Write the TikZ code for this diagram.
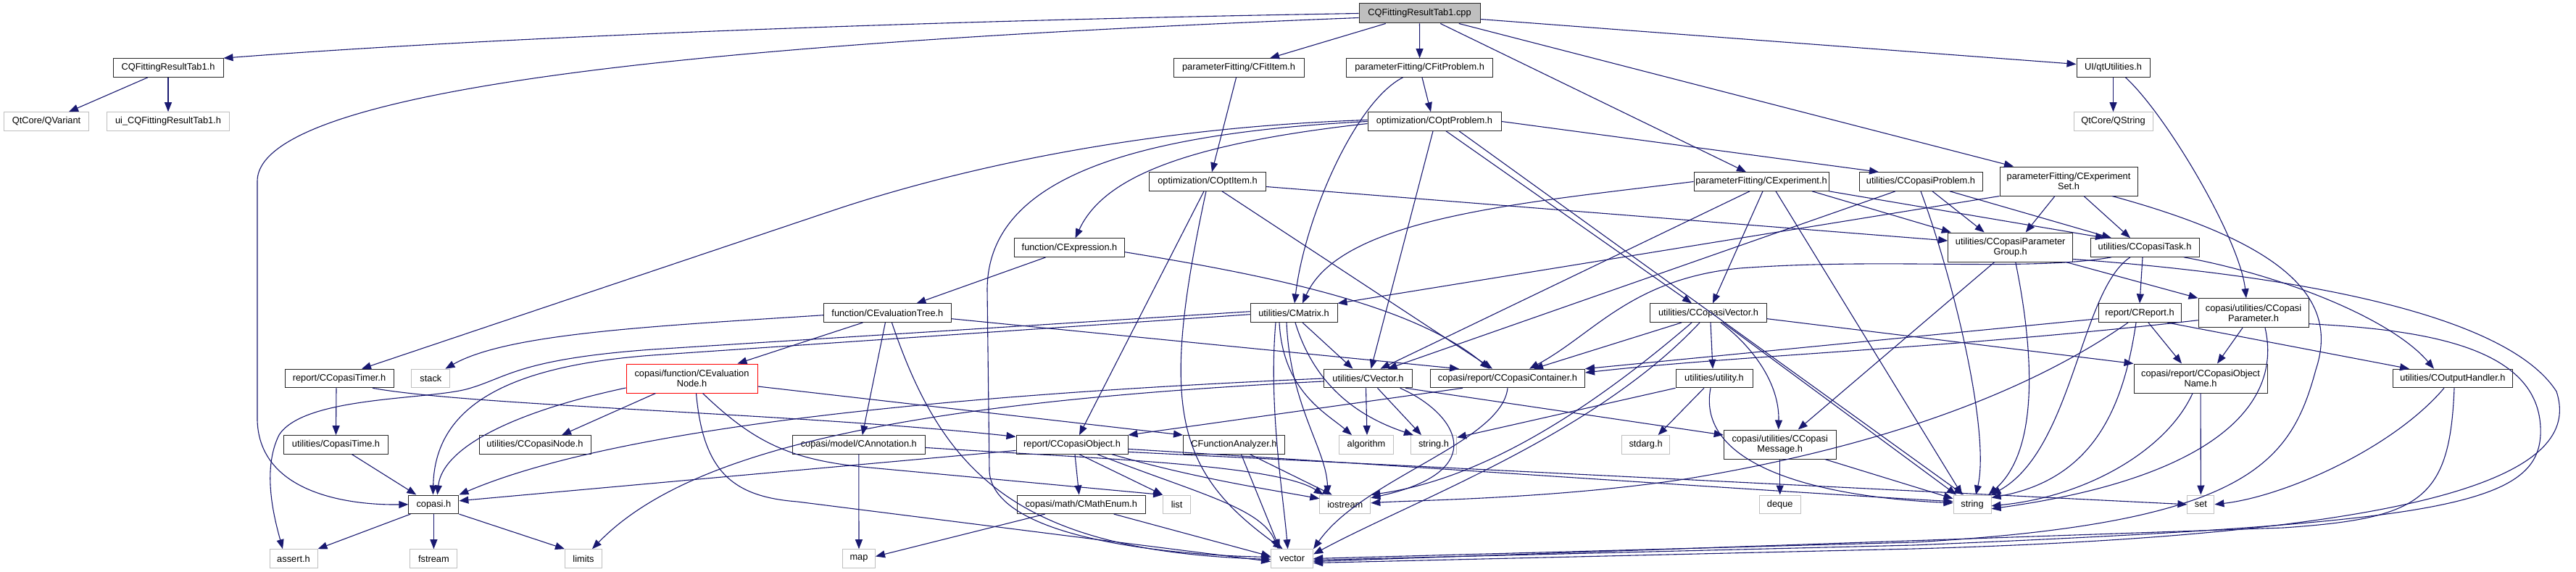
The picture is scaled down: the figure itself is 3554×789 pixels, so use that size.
\documentclass[tikz,border=0pt]{standalone}
\usepackage{fontspec}
\setmainfont{Liberation Sans}
\usetikzlibrary{arrows.meta}
\definecolor{edgec}{HTML}{191970}
\definecolor{greyb}{HTML}{BFBFBF}
\begin{document}
\begin{tikzpicture}[x=1pt,y=-1pt,
  font=\fontsize{12.8}{14.5}\selectfont,
  nd/.style={draw=black!85, line width=1.0pt, fill=white, inner sep=0pt, minimum height=25.6pt, align=center},
  sys/.style={nd, draw=greyb},
  lnk/.style={draw=edgec, line width=1.1pt, -{Triangle[length=13pt,width=10pt]}}]
\useasboundingbox (0,0) rectangle (3554,789);
% ---------- nodes ----------
\node[nd, fill=greyb, minimum width=167pt, minimum height=27pt] (root) at (1958.5,18.5) {CQFittingResultTab1.cpp};
\node[nd, minimum width=152pt] (tabh) at (232,93.5) {CQFittingResultTab1.h};
\node[sys, minimum width=117pt] (qvar) at (64,167.5) {QtCore/QVariant};
\node[sys, minimum width=169pt] (uitab) at (232,167.5) {ui\_CQFittingResultTab1.h};
\node[nd, minimum width=180pt] (fititem) at (1709,93.5) {parameterFitting/CFitItem.h};
\node[nd, minimum width=202pt] (fitprob) at (1958.6,93.5) {parameterFitting/CFitProblem.h};
\node[nd, minimum width=101pt] (qtutil) at (2915.5,93.5) {UI/qtUtilities.h};
\node[nd, minimum width=184pt] (optprob) at (1979,167.5) {optimization/COptProblem.h};
\node[sys, minimum width=109pt] (qstring) at (2915.5,167.5) {QtCore/QString};
\node[nd, minimum width=161pt] (optitem) at (1666,250.5) {optimization/COptItem.h};
\node[nd, minimum width=186pt] (exper) at (2430,250.5) {parameterFitting/CExperiment.h};
\node[nd, minimum width=170pt] (cprob) at (2650,250.5) {utilities/CCopasiProblem.h};
\node[nd, minimum width=190pt, minimum height=40pt] (experset) at (2854,250) {parameterFitting/CExperiment\\Set.h};
\node[nd, minimum width=152pt] (expr) at (1475.5,341.7) {function/CExpression.h};
\node[nd, minimum width=172pt, minimum height=40pt] (pgroup) at (2773.7,341) {utilities/CCopasiParameter\\Group.h};
\node[nd, minimum width=150pt] (ctask) at (2959,341.5) {utilities/CCopasiTask.h};
\node[nd, minimum width=176pt] (evtree) at (1224.4,431.7) {function/CEvaluationTree.h};
\node[nd, minimum width=120pt] (cmatrix) at (1785,431.7) {utilities/CMatrix.h};
\node[nd, minimum width=161pt] (cvecc) at (2357,431.7) {utilities/CCopasiVector.h};
\node[nd, minimum width=114pt] (creport) at (2952,431.7) {report/CReport.h};
\node[nd, minimum width=152pt, minimum height=40pt] (cparam) at (3109,431.7) {copasi/utilities/CCopasi\\Parameter.h};
\node[nd, minimum width=150pt] (timer) at (468,522) {report/CCopasiTimer.h};
\node[sys, minimum width=53pt] (stack) at (594.4,522) {stack};
\node[nd, draw=red, minimum width=181pt, minimum height=40pt] (evnode) at (954.5,522) {copasi/function/CEvaluation\\Node.h};
\node[nd, minimum width=122pt] (cvector) at (1887.5,522) {utilities/CVector.h};
\node[nd, minimum width=213pt] (container) at (2080,522) {copasi/report/CCopasiContainer.h};
\node[nd, minimum width=106pt] (utility) at (2365,522) {utilities/utility.h};
\node[nd, minimum width=184pt, minimum height=40pt] (objname) at (3036,522) {copasi/report/CCopasiObject\\Name.h};
\node[nd, minimum width=165pt] (outhandler) at (3384,522) {utilities/COutputHandler.h};
\node[nd, minimum width=144pt] (ctime) at (463.5,613.4) {utilities/CopasiTime.h};
\node[nd, minimum width=154pt] (cnode) at (738,613.4) {utilities/CCopasiNode.h};
\node[nd, minimum width=183pt] (annot) at (1184.8,613.4) {copasi/model/CAnnotation.h};
\node[nd, minimum width=154pt] (cobject) at (1479,613.4) {report/CCopasiObject.h};
\node[nd, minimum width=140pt] (fanalyzer) at (1702.5,613.4) {CFunctionAnalyzer.h};
\node[sys, minimum width=75pt] (algorithm) at (1885,613.4) {algorithm};
\node[sys, minimum width=63pt] (stringh) at (1978,613.4) {string.h};
\node[sys, minimum width=66pt] (stdarg) at (2270.6,613.4) {stdarg.h};
\node[nd, minimum width=155pt, minimum height=40pt] (message) at (2455.7,613) {copasi/utilities/CCopasi\\Message.h};
\node[nd, minimum width=69pt] (copasih) at (598.4,695.8) {copasi.h};
\node[nd, minimum width=177pt] (mathenum) at (1491.7,695.8) {copasi/math/CMathEnum.h};
\node[sys, minimum width=38pt] (list) at (1623.6,695.8) {list};
\node[sys, minimum width=70pt] (iostream) at (1855.8,695.8) {iostream};
\node[sys, minimum width=57pt] (deque) at (2455.7,695.8) {deque};
\node[sys, minimum width=52pt] (string) at (2721,695.8) {string};
\node[sys, minimum width=37pt] (set) at (3036.4,695.8) {set};
\node[sys, minimum width=66pt] (assert) at (405,770.5) {assert.h};
\node[sys, minimum width=65pt] (fstream) at (598.4,770.5) {fstream};
\node[sys, minimum width=51pt] (limits) at (805,770.5) {limits};
\node[sys, minimum width=45pt] (map) at (1185,770.5) {map};
\node[sys, minimum width=58pt] (vector) at (1782.6,770.5) {vector};
% ---------- edges ----------
% root
\draw[lnk] (root.west) .. controls (1300,28) and (700,50) .. (tabh.north east);
\draw[lnk] ([yshift=-6pt]root.west) .. controls (1100,55) and (355,110) .. (355,250) -- (355,580) .. controls (358,680) and (480,697) .. (copasih.west);
\draw[lnk] (root) -- ([xshift=43pt]fititem.north);
\draw[lnk] (root) -- (fitprob);
\draw[lnk] (root) -- ([xshift=-21pt]exper.north);
\draw[lnk] (root) -- ([xshift=-76pt]experset.north);
\draw[lnk] ([yshift=-8pt]root.east) -- ([yshift=5pt]qtutil.west);
% tabh
\draw[lnk] ([xshift=-28pt]tabh.south) -- ([xshift=31pt]qvar.north);
\draw[lnk] (tabh) -- (uitab);
% qtutil
\draw[lnk] (qtutil) -- (qstring);
\draw[lnk] ([xshift=17pt]qtutil.south) .. controls (2990,160) and (3090,330) .. ([xshift=-10pt]cparam.north);
% fititem, fitprob
\draw[lnk] (fititem) -- ([xshift=6pt]optitem.north);
\draw[lnk] (fitprob) -- ([xshift=-5pt]optprob.north);
\draw[lnk] ([xshift=-23pt]fitprob.south) .. controls (1870,140) and (1800,300) .. ([xshift=1pt]cmatrix.north);
% optprob
\draw[lnk] ([yshift=2pt]optprob.west) .. controls (1600,175) and (1345,225) .. (1150,290) -- ([xshift=31pt]timer.north);
\draw[lnk] (optprob.west) .. controls (1550,185) and (1362,250) .. (1362,400) -- (1365,650) .. controls (1370,740) and (1600,765) .. ([yshift=2pt]vector.west);
\draw[lnk] ([yshift=-3pt]optprob.west) .. controls (1620,200) and (1520,250) .. ([xshift=8pt]expr.north);
\draw[lnk] ([xshift=-2pt]optprob.south) -- ([xshift=4pt]cvector.north);
\draw[lnk] ([xshift=16pt]optprob.south) -- ([xshift=-23pt]cvecc.north);
\draw[lnk] ([xshift=34pt]optprob.south) -- ([xshift=-12pt]string.north);
\draw[lnk] (optprob.east) -- ([xshift=-58pt]cprob.north);
% optitem
\draw[lnk] ([xshift=-5pt]optitem.south) -- ([xshift=10pt]cobject.north);
\draw[lnk] ([xshift=-2pt]optitem.south) .. controls (1600,560) and (1620,650) .. ([xshift=-13pt]vector.north);
\draw[lnk] ([xshift=20pt]optitem.south) -- ([xshift=-21pt]container.north);
\draw[lnk] ([yshift=-7pt]optitem.east) -- ([yshift=9pt]pgroup.west);
% expr
\draw[lnk] ([xshift=-33pt]expr.south) -- ([xshift=40pt]evtree.north);
\draw[lnk] ([yshift=-6pt]expr.east) .. controls (1750,380) and (1950,420) .. ([xshift=-25pt]container.north);
% evtree
\draw[lnk] ([yshift=-3pt]evtree.west) .. controls (900,450) and (700,460) .. ([xshift=20pt]stack.north);
\draw[lnk] ([xshift=-34pt]evtree.south) -- ([xshift=63pt]evnode.north);
\draw[lnk] ([xshift=-3pt]evtree.south) -- ([xshift=5pt]annot.north);
\draw[lnk] ([xshift=6pt]evtree.south) .. controls (1300,650) and (1400,760) .. ([yshift=-1pt]vector.west);
\draw[lnk] ([yshift=-8pt]evtree.east) -- ([xshift=-67pt]container.north);
% cmatrix
\draw[lnk] ([yshift=2pt]cmatrix.west) -- (900,482) .. controls (720,495) and (700,520) .. (650,535) .. controls (600,552) and (420,545) .. (385,600) .. controls (360,650) and (380,720) .. ([xshift=-15pt]assert.north);
\draw[lnk] ([yshift=-2pt]cmatrix.west) -- (900,490) .. controls (700,505) and (600,560) .. ([xshift=-1pt]copasih.north);
\draw[lnk] ([xshift=12pt]cmatrix.south) -- ([xshift=-21pt]cvector.north);
\draw[lnk] ([xshift=-20pt]cmatrix.south) .. controls (1770,540) and (1830,570) .. ([xshift=-20pt]algorithm.north);
\draw[lnk] ([xshift=2pt]cmatrix.south) .. controls (1810,520) and (1860,570) .. ([xshift=-28pt]stringh.north);
\draw[lnk] ([xshift=-10pt]cmatrix.south) .. controls (1780,560) and (1830,620) .. ([xshift=-24pt]iostream.north);
\draw[lnk] ([xshift=-25pt]cmatrix.south) .. controls (1750,560) and (1770,680) .. ([xshift=-6pt]vector.north);
% cvector
\draw[lnk] (cvector.west) .. controls (1300,545) and (850,590) .. (copasih.north east);
\draw[lnk] ([yshift=-4pt]cvector.west) .. controls (1250,555) and (950,620) .. ([xshift=12pt]limits.north);
\draw[lnk] ([xshift=-3pt]cvector.south) -- ([xshift=1pt]algorithm.north);
\draw[lnk] ([xshift=13pt]cvector.south) -- ([xshift=-17pt]stringh.north);
\draw[lnk] ([xshift=44pt]cvector.south) .. controls (2010,570) and (2060,650) .. ([yshift=9pt]iostream.east);
\draw[lnk] ([xshift=-10pt]cvector.south east) -- ([yshift=13pt]message.west);
% container
\draw[lnk] ([xshift=-62pt]container.south) -- (cobject.north east);
\draw[lnk] (container.south) .. controls (2072,610) and (1880,660) .. (vector.north east);
% cvecc
\draw[lnk] ([xshift=-37pt]cvecc.south) -- ([xshift=36pt]container.north);
\draw[lnk] ([xshift=-23pt]cvecc.south) .. controls (2200,560) and (2050,660) .. (iostream.north east);
\draw[lnk] ([xshift=-12pt]cvecc.south) .. controls (2200,600) and (1950,690) .. ([yshift=6pt]vector.east);
\draw[lnk] ([xshift=3pt]cvecc.south) -- ([xshift=-2pt]utility.north);
\draw[lnk] ([xshift=17pt]cvecc.south) .. controls (2420,480) and (2455,530) .. ([xshift=-2pt]message.north);
\draw[lnk] ([xshift=20pt]cvecc.south) -- ([xshift=-22pt]string.north);
\draw[lnk] ([yshift=-8pt]cvecc.east) -- (objname.north west);
% utility
\draw[lnk] (utility.south west) -- ([yshift=10pt]stringh.east);
\draw[lnk] ([xshift=-14pt]utility.south) -- ([xshift=17pt]stdarg.north);
\draw[lnk] ([xshift=-5pt]utility.south) .. controls (2340,640) and (2500,685) .. ([yshift=2pt]string.west);
% message
\draw[lnk] (message) -- (deque);
\draw[lnk] ([xshift=62pt]message.south) -- ([yshift=8pt]string.west);
% objname
\draw[lnk] ([xshift=-11pt]objname.south) .. controls (2990,620) and (2880,685) .. ([yshift=-2pt]string.east);
\draw[lnk] (objname) -- (set);
% outhandler
\draw[lnk] ([xshift=-12pt]outhandler.south) .. controls (3300,620) and (3150,685) .. (set.east);
\draw[lnk] ([xshift=2pt]outhandler.south) .. controls (3380,690) and (3340,715) .. (3150,728) -- ([yshift=-4pt]vector.east);
% ctask
\draw[lnk] ([xshift=-3pt]ctask.south) -- (creport.north);
\draw[lnk] ([xshift=54pt]ctask.south) .. controls (3150,380) and (3300,440) .. ([xshift=-26pt]outhandler.north);
\draw[lnk] ([xshift=-20pt]ctask.south) .. controls (2870,400) and (2860,620) .. (string.north east);
\draw[lnk] ([xshift=-46pt]ctask.south) .. controls (2800,375) and (2600,355) .. (2400,370) .. controls (2250,385) and (2200,460) .. ([xshift=30pt]container.north);
% creport
\draw[lnk] ([yshift=-8pt]creport.west) -- (container.north east);
\draw[lnk] ([xshift=12pt]creport.south) -- ([xshift=-26pt]objname.north);
\draw[lnk] ([xshift=-5pt]creport.south) .. controls (2930,560) and (2890,660) .. ([yshift=-4pt]string.north east);
\draw[lnk] ([xshift=-16pt]creport.south) .. controls (2800,540) and (2600,615) .. (2330,660) .. controls (2150,688) and (1950,690) .. ([yshift=2pt]iostream.east);
\draw[lnk] ([xshift=38pt]creport.south) -- ([xshift=-60pt]outhandler.north);
% cparam
\draw[lnk] ([xshift=-15pt]cparam.south) -- ([xshift=23pt]objname.north);
\draw[lnk] ([yshift=-10pt]cparam.west) .. controls (2700,480) and (2400,490) .. ([yshift=8pt]container.east);
\draw[lnk] ([xshift=16pt]cparam.south) .. controls (3150,560) and (3050,660) .. ([yshift=-6pt]string.east);
\draw[lnk] ([yshift=-15pt]cparam.east) .. controls (3350,455) and (3510,480) .. (3505,600) .. controls (3500,700) and (3350,722) .. (2640,752) -- ([yshift=-2pt]vector.east);
% pgroup
\draw[lnk] ([xshift=-10pt]pgroup.south east) -- (cparam.north west);
\draw[lnk] ([xshift=7pt]pgroup.south) .. controls (2805,480) and (2815,620) .. ([xshift=-4pt]string.north east);
\draw[lnk] ([xshift=-22pt]pgroup.south) -- ([xshift=25pt]message.north);
\draw[lnk] ([yshift=4pt]pgroup.south east) .. controls (3100,375) and (3450,420) .. (3527,540) .. controls (3560,640) and (3420,735) .. (2640,757) -- ([yshift=-6pt]vector.east);
% experset
\draw[lnk] ([xshift=-19pt]experset.south) -- ([xshift=21pt]pgroup.north);
\draw[lnk] ([xshift=21pt]experset.south) -- ([xshift=-20pt]ctask.north);
\draw[lnk] ([xshift=60pt]experset.south) .. controls (3170,340) and (3225,420) .. (3195,510) .. controls (3160,640) and (3100,722) .. (2640,748) -- (vector.east);
\draw[lnk] (experset.south west) -- (cmatrix.north east);
% cprob
\draw[lnk] ([xshift=16pt]cprob.south) -- ([xshift=-36pt]pgroup.north);
\draw[lnk] ([xshift=40pt]cprob.south) -- ([xshift=-46pt]ctask.north);
\draw[lnk] (cprob.south) .. controls (2700,400) and (2745,600) .. ([xshift=5pt]string.north);
\draw[lnk] ([xshift=-35pt]cprob.south) -- ([xshift=27pt]cvector.north);
% exper
\draw[lnk] (exper.west) .. controls (2100,280) and (1850,300) .. ([xshift=12pt]cmatrix.north);
\draw[lnk] ([xshift=-16pt]exper.south) -- ([xshift=17pt]cvector.north);
\draw[lnk] ([xshift=2pt]exper.south) -- ([xshift=6pt]cvecc.north);
\draw[lnk] ([xshift=20pt]exper.south) -- ([xshift=-14pt]string.north);
\draw[lnk] ([xshift=70pt]exper.south) -- ([xshift=-82pt]pgroup.north);
\draw[lnk] (exper.south east) -- ([xshift=-55pt]ctask.north);
% timer, ctime
\draw[lnk] ([xshift=-4pt]timer.south) -- (ctime.north);
\draw[lnk] ([xshift=46pt]timer.south) .. controls (650,560) and (1100,570) .. ([yshift=11pt]cobject.west);
\draw[lnk] ([xshift=22pt]ctime.south) -- ([xshift=-24pt]copasih.north);
% evnode
\draw[lnk] ([yshift=-13pt]evnode.west) .. controls (700,570) and (610,620) .. ([xshift=5pt]copasih.north);
\draw[lnk] ([xshift=-50pt]evnode.south) -- ([xshift=37pt]cnode.north);
\draw[lnk] ([yshift=-11pt]evnode.east) -- (fanalyzer.north west);
\draw[lnk] ([xshift=15pt]evnode.south) .. controls (1040,610) and (1090,635) .. (1200,645) -- (list.north west);
\draw[lnk] ([xshift=6pt]evnode.south) .. controls (970,650) and (1010,685) .. (1100,692) -- ([yshift=-4pt]vector.west);
% annot
\draw[lnk] (annot) -- (map);
\draw[lnk] ([yshift=-4pt]annot.east) .. controls (1500,632) and (1760,640) .. ([xshift=-30pt]iostream.north);
% cobject
\draw[lnk] ([yshift=-8pt]cobject.west) -- ([yshift=5pt]copasih.east);
\draw[lnk] ([xshift=10pt]cobject.south) -- (list.north west);
\draw[lnk] ([xshift=4pt]cobject.south) -- ([xshift=-3pt]mathenum.north);
\draw[lnk] ([xshift=35pt]cobject.south) .. controls (1650,680) and (1740,700) .. ([xshift=-19pt]vector.north);
\draw[lnk] ([xshift=55pt]cobject.south) .. controls (1650,660) and (1750,675) .. ([yshift=8pt]iostream.west);
\draw[lnk] ([yshift=-6pt]cobject.east) .. controls (1900,640) and (2400,675) .. ([yshift=4pt]string.west);
\draw[lnk] ([yshift=-10pt]cobject.east) -- (set.west);
% mathenum
\draw[lnk] ([xshift=-50pt]mathenum.south) -- ([yshift=3pt]map.east);
\draw[lnk] ([xshift=45pt]mathenum.south) -- ([yshift=3pt]vector.west);
% fanalyzer
\draw[lnk] ([xshift=10pt]fanalyzer.south) -- ([xshift=-17pt]vector.north);
\draw[lnk] ([xshift=22pt]fanalyzer.south) -- ([xshift=-18pt]iostream.north);
% copasih
\draw[lnk] ([xshift=-32pt]copasih.south) -- (assert.north east);
\draw[lnk] (copasih) -- (fstream);
\draw[lnk] (copasih.south east) -- (limits.north west);
\end{tikzpicture}
\end{document}
